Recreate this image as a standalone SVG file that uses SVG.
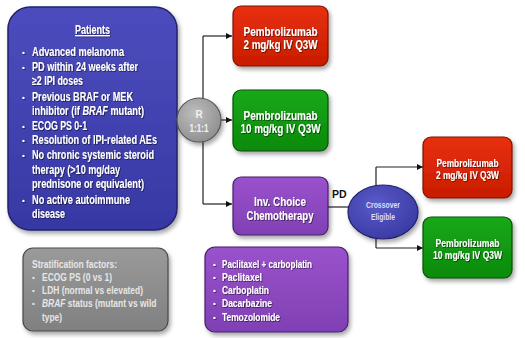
<svg xmlns="http://www.w3.org/2000/svg" width="525" height="338" viewBox="0 0 525 338">
<defs>
<filter id="sh" x="-10%" y="-10%" width="130%" height="130%"><feDropShadow dx="2" dy="3" stdDeviation="2" flood-color="#000" flood-opacity="0.35"/></filter>
<filter id="ts" x="-5%" y="-20%" width="110%" height="150%"><feDropShadow dx="0.8" dy="0.8" stdDeviation="0.4" flood-color="#000" flood-opacity="0.6"/></filter>
<linearGradient id="gBlue" x1="0" y1="0" x2="0" y2="1"><stop offset="0" stop-color="#4c4cbe"/><stop offset="1" stop-color="#3838a4"/></linearGradient>
<linearGradient id="gRed" x1="0" y1="0" x2="0" y2="1"><stop offset="0" stop-color="#e83010"/><stop offset="1" stop-color="#c81c00"/></linearGradient>
<linearGradient id="gGreen" x1="0" y1="0" x2="0" y2="1"><stop offset="0" stop-color="#1aa81a"/><stop offset="1" stop-color="#0a8a0a"/></linearGradient>
<linearGradient id="gPurple" x1="0" y1="0" x2="0" y2="1"><stop offset="0" stop-color="#9a52cc"/><stop offset="1" stop-color="#8040b4"/></linearGradient>
<linearGradient id="gGray" x1="0" y1="0" x2="0" y2="1"><stop offset="0" stop-color="#9a9a9a"/><stop offset="1" stop-color="#808080"/></linearGradient>
<radialGradient id="gCircle" cx="0.4" cy="0.35" r="0.7"><stop offset="0" stop-color="#bdbdbd"/><stop offset="1" stop-color="#8e8e8e"/></radialGradient>
<radialGradient id="gEll" cx="0.4" cy="0.35" r="0.7"><stop offset="0" stop-color="#5a5ac8"/><stop offset="1" stop-color="#3a3aa4"/></radialGradient>
<marker id="arr" viewBox="0 0 6 6" refX="6" refY="3" markerWidth="6" markerHeight="6" orient="auto" markerUnits="userSpaceOnUse"><path d="M0,0 L6,3 L0,6 z" fill="#111"/></marker>
</defs>
<style>
text{font-family:"Liberation Sans",Arial,sans-serif;font-weight:bold}
.w{fill:#fff;font-size:12px}
.h{fill:#fff;font-size:12.5px;text-anchor:middle}
.s{fill:#fff;font-size:11px;text-anchor:middle}
.g{fill:#e6e6e6;font-size:11.5px}
.bul{font-size:8px}
.it{font-style:italic}
.con{fill:none;stroke:#222;stroke-width:1.2}
</style>
<rect width="525" height="338" fill="#fff"/>

<g id="connectors">
<path class="con" d="M203,36 V204"/>
<path class="con" d="M203,36 H232" marker-end="url(#arr)"/>
<path class="con" d="M203,120 H232" marker-end="url(#arr)"/>
<path class="con" d="M203,204 H232" marker-end="url(#arr)"/>
<path class="con" d="M328,207 H350"/>
<path class="con" d="M376,167 V248"/>
<path class="con" d="M376,167 H423" marker-end="url(#arr)"/>
<path class="con" d="M376,248 H423" marker-end="url(#arr)"/>
<text x="332" y="198" style="font-size:10.5px;fill:#111">PD</text>
</g>

<g id="patients">
<rect x="8" y="7" width="169" height="223" rx="22" fill="url(#gBlue)" stroke="#23236e" stroke-width="1.5" filter="url(#sh)"/>
<g filter="url(#ts)">
<text x="92.5" y="34" class="h" text-decoration="underline" textLength="35" lengthAdjust="spacingAndGlyphs">Patients</text>
<g class="w">
<text x="22" y="55" class="bul">•</text><text x="32" y="56" textLength="92" lengthAdjust="spacingAndGlyphs">Advanced melanoma</text>
<text x="22" y="70" class="bul">•</text><text x="32" y="71" textLength="106" lengthAdjust="spacingAndGlyphs">PD within 24 weeks after</text>
<text x="32" y="85" textLength="51" lengthAdjust="spacingAndGlyphs">≥2 IPI doses</text>
<text x="22" y="100" class="bul">•</text><text x="32" y="101" textLength="101" lengthAdjust="spacingAndGlyphs">Previous BRAF or MEK</text>
<text transform="translate(32,115) scale(0.765,1)">inhibitor (if <tspan class="it">BRAF</tspan> mutant)</text>
<text x="22" y="129" class="bul">•</text><text x="32" y="130" textLength="55" lengthAdjust="spacingAndGlyphs">ECOG PS 0-1</text>
<text x="22" y="143" class="bul">•</text><text x="32" y="144" textLength="125" lengthAdjust="spacingAndGlyphs">Resolution of IPI-related AEs</text>
<text x="22" y="158" class="bul">•</text><text x="32" y="159" textLength="122" lengthAdjust="spacingAndGlyphs">No chronic systemic steroid</text>
<text x="32" y="174" textLength="88" lengthAdjust="spacingAndGlyphs">therapy (&gt;10 mg/day</text>
<text x="32" y="188" textLength="112" lengthAdjust="spacingAndGlyphs">prednisone or equivalent)</text>
<text x="22" y="203" class="bul">•</text><text x="32" y="204" textLength="98" lengthAdjust="spacingAndGlyphs">No active autoimmune</text>
<text x="32" y="218" textLength="33" lengthAdjust="spacingAndGlyphs">disease</text>
</g>
</g>
</g>

<g id="randomize">
<circle cx="199" cy="120" r="22" fill="url(#gCircle)" stroke="#555" stroke-width="1.2" filter="url(#sh)"/>
<text x="199" y="118" style="font-size:10px;fill:#f2f2f2;text-anchor:middle">R</text>
<text x="199" y="132" style="font-size:10px;fill:#f2f2f2;text-anchor:middle" textLength="19" lengthAdjust="spacingAndGlyphs">1:1:1</text>
</g>

<g id="pembro2">
<rect x="233" y="6" width="95" height="60" rx="8" fill="url(#gRed)" stroke="#7a1400" stroke-width="1.2" filter="url(#sh)"/>
<g filter="url(#ts)">
<text x="280.5" y="36" class="h" textLength="74" lengthAdjust="spacingAndGlyphs">Pembrolizumab</text>
<text x="280.5" y="49" class="h" textLength="74" lengthAdjust="spacingAndGlyphs">2 mg/kg IV Q3W</text>
</g>
</g>

<g id="pembro10">
<rect x="233" y="90" width="95" height="61" rx="8" fill="url(#gGreen)" stroke="#0a4f0a" stroke-width="1.2" filter="url(#sh)"/>
<g filter="url(#ts)">
<text x="280.5" y="120" class="h" textLength="74" lengthAdjust="spacingAndGlyphs">Pembrolizumab</text>
<text x="280.5" y="133" class="h" textLength="80" lengthAdjust="spacingAndGlyphs">10 mg/kg IV Q3W</text>
</g>
</g>

<g id="chemo">
<rect x="233" y="177" width="95" height="58" rx="8" fill="url(#gPurple)" stroke="#45206a" stroke-width="1.2" filter="url(#sh)"/>
<g filter="url(#ts)">
<text x="280" y="206" class="h" textLength="52" lengthAdjust="spacingAndGlyphs">Inv. Choice</text>
<text x="280" y="220" class="h" textLength="67" lengthAdjust="spacingAndGlyphs">Chemotherapy</text>
</g>
</g>

<g id="crossover">
<ellipse cx="383" cy="212" rx="35" ry="27" fill="url(#gEll)" stroke="#22226a" stroke-width="1.2" filter="url(#sh)"/>
<text x="383" y="208" style="font-size:9.5px;fill:#dcdcf8;text-anchor:middle" textLength="34" lengthAdjust="spacingAndGlyphs">Crossover</text>
<text x="383" y="220" style="font-size:9.5px;fill:#dcdcf8;text-anchor:middle" textLength="24" lengthAdjust="spacingAndGlyphs">Eligible</text>
</g>

<g id="cross-pembro2">
<rect x="423" y="137" width="89" height="61" rx="8" fill="url(#gRed)" stroke="#7a1400" stroke-width="1.2" filter="url(#sh)"/>
<g filter="url(#ts)">
<text x="467.5" y="167" class="s" textLength="62" lengthAdjust="spacingAndGlyphs">Pembrolizumab</text>
<text x="467.5" y="179" class="s" textLength="63" lengthAdjust="spacingAndGlyphs">2 mg/kg IV Q3W</text>
</g>
</g>

<g id="cross-pembro10">
<rect x="423" y="217" width="89" height="61" rx="8" fill="url(#gGreen)" stroke="#0a4f0a" stroke-width="1.2" filter="url(#sh)"/>
<g filter="url(#ts)">
<text x="467.5" y="247" class="s" textLength="64" lengthAdjust="spacingAndGlyphs">Pembrolizumab</text>
<text x="467.5" y="259" class="s" textLength="69" lengthAdjust="spacingAndGlyphs">10 mg/kg IV Q3W</text>
</g>
</g>

<g id="stratification">
<rect x="23" y="248" width="145" height="83" rx="10" fill="url(#gGray)" stroke="#4a4a4a" stroke-width="1.2" filter="url(#sh)"/>
<g class="g">
<text x="32" y="268" textLength="85" lengthAdjust="spacingAndGlyphs">Stratification factors:</text>
<text x="32" y="280" class="bul">•</text><text x="42" y="281" textLength="70" lengthAdjust="spacingAndGlyphs">ECOG PS (0 vs 1)</text>
<text x="32" y="293" class="bul">•</text><text x="42" y="294" textLength="101" lengthAdjust="spacingAndGlyphs">LDH (normal vs elevated)</text>
<text x="32" y="306" class="bul">•</text><text transform="translate(42,307) scale(0.735,1)"><tspan class="it">BRAF</tspan> status (mutant vs wild</text>
<text x="42" y="321" textLength="20" lengthAdjust="spacingAndGlyphs">type)</text>
</g>
</g>

<g id="chemo-options">
<rect x="205" y="247" width="143" height="85" rx="10" fill="url(#gPurple)" stroke="#45206a" stroke-width="1.2" filter="url(#sh)"/>
<g class="w" filter="url(#ts)" style="font-size:11.5px">
<text x="213" y="267" class="bul">•</text><text x="222" y="268" textLength="90" lengthAdjust="spacingAndGlyphs">Paclitaxel + carboplatin</text>
<text x="213" y="280" class="bul">•</text><text x="222" y="281" textLength="40" lengthAdjust="spacingAndGlyphs">Paclitaxel</text>
<text x="213" y="293" class="bul">•</text><text x="222" y="294" textLength="47" lengthAdjust="spacingAndGlyphs">Carboplatin</text>
<text x="213" y="306" class="bul">•</text><text x="222" y="307" textLength="50" lengthAdjust="spacingAndGlyphs">Dacarbazine</text>
<text x="213" y="320" class="bul">•</text><text x="222" y="321" textLength="58" lengthAdjust="spacingAndGlyphs">Temozolomide</text>
</g>
</g>
</svg>
